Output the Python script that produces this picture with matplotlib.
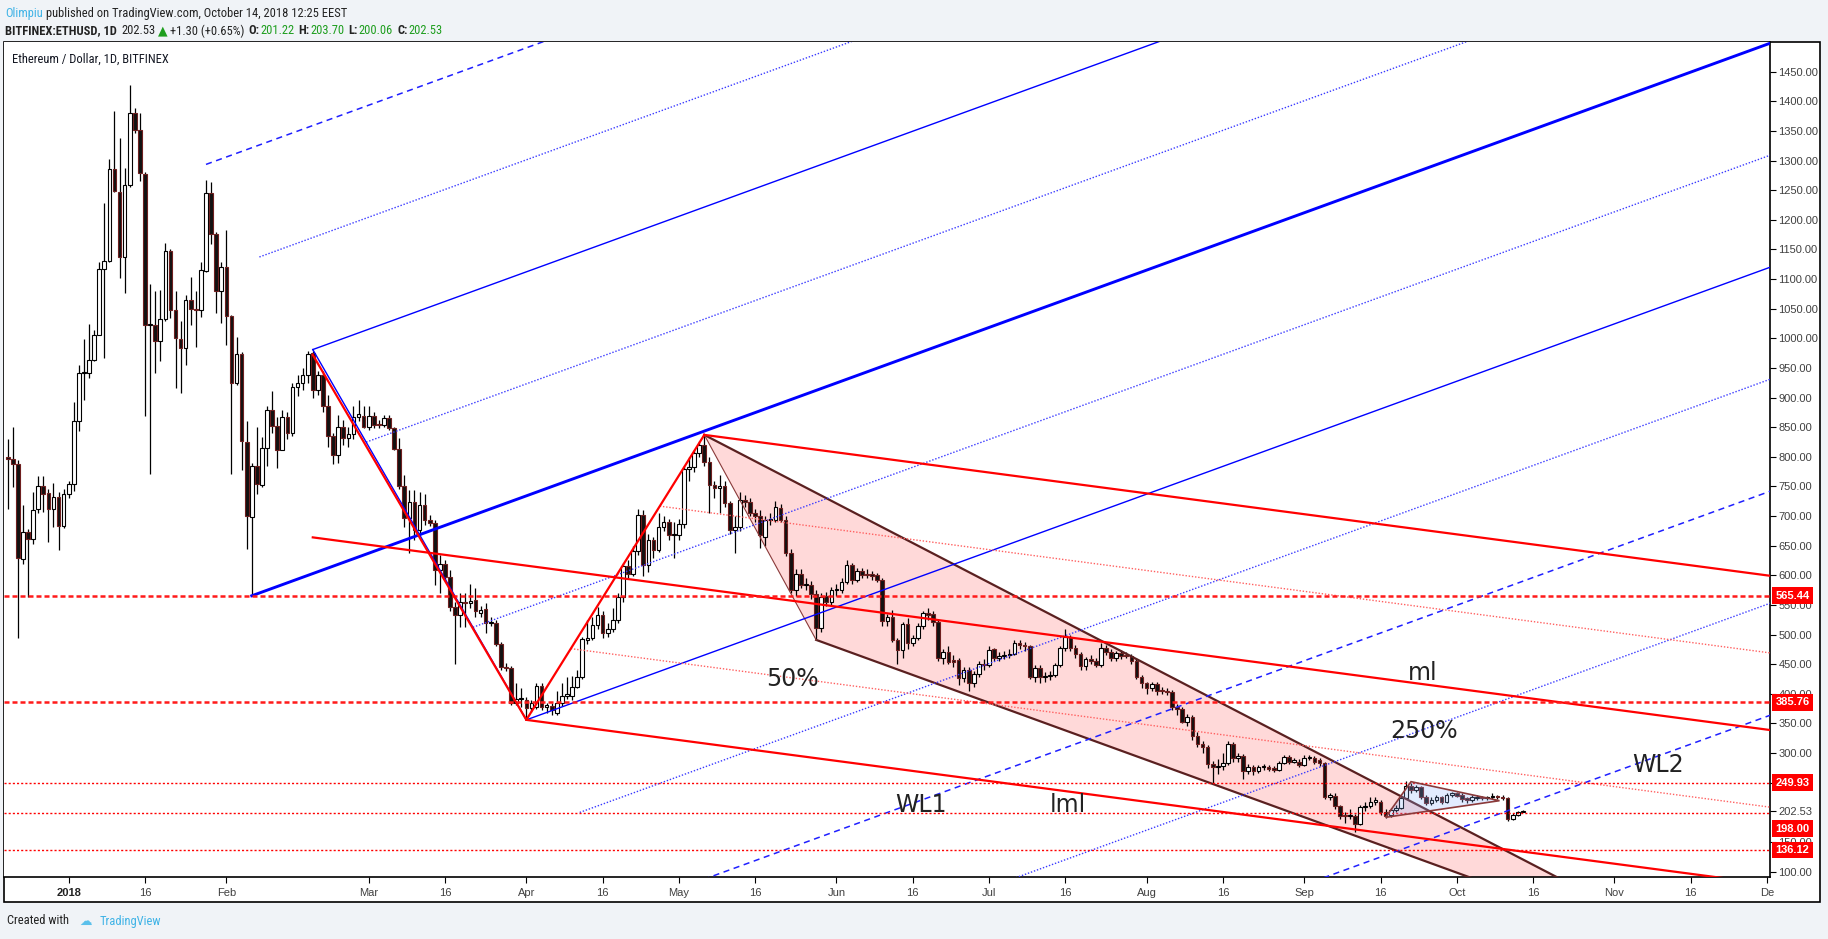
import matplotlib
matplotlib.use("Agg")
import matplotlib.pyplot as plt
import matplotlib.transforms as mtransforms
from matplotlib.patches import Rectangle, Polygon
from matplotlib import font_manager
import numpy as np

W, H = 1828, 939

# ---- daily candles, day 0 = 2018-01-01 (first candle = Dec 20, 2017) ----
first_day = -12
opens = [
    # Dec
    800, 796, 788, 628, 673, 662, 712, 751, 739, 712, 732, 684,
    # Jan
    737, 754, 860, 942, 941, 964, 1006, 1117, 1131, 1286, 1247, 1137, 1259, 1381, 1351, 1277,
    1022, 1023, 995, 1033, 1148, 1048, 998, 983, 1064, 1049, 1047, 1114, 1246, 1176, 1079,
    # Feb
    1120, 1037, 924, 973, 825, 698, 784, 753, 815, 879, 852, 812, 868, 841, 918, 924, 938, 975,
    913, 938, 885, 835, 803, 851, 831, 838, 867, 869,
    # Mar
    850, 869, 855, 853, 865, 848, 814, 750, 696, 723, 677, 719, 694, 688, 609, 619, 597, 547,
    533, 555, 553, 558, 537, 543, 519, 520, 484, 446, 443, 384, 391,
    # Apr
    390, 376, 378, 413, 378, 379, 367, 384, 397, 397, 412, 428, 491, 494, 516, 533, 502, 509,
    525, 564, 615, 603, 641, 702, 617, 660, 643, 682, 690, 668,
    # May
    668, 686, 779, 783, 806, 820, 792, 752, 747, 750, 722, 677, 682, 727, 724, 705, 700, 665,
    693, 694, 713, 694, 638, 575, 602, 584, 584, 568, 511, 565, 555,
    # Jun
    575, 576, 588, 617, 592, 607, 603, 602, 600, 592, 523, 529, 491, 474, 518, 485, 495, 514,
    536, 535, 522, 460, 471, 457, 457, 426, 440, 418, 433, 451,
    # Jul
    449, 475, 460, 464, 466, 468, 485, 482, 480, 429, 443, 428, 430, 432, 449, 477, 496, 477,
    467, 447, 458, 455, 449, 477, 471, 460, 469, 466, 464, 456, 429,
    # Aug
    418, 409, 416, 406, 405, 403, 378, 375, 353, 361, 329, 315, 310, 281, 276, 278, 284, 315,
    291, 295, 269, 277, 270, 276, 276, 274, 272, 284, 293, 285, 285,
    # Sep
    280, 291, 291, 288, 283, 225, 227, 211, 195, 193, 194, 180, 209, 211, 218, 218, 201, 195,
    204, 207, 224, 244, 238, 242, 226, 216, 221, 226, 218, 229,
    # Oct
    232, 229, 224, 220, 224, 226, 224, 225, 227, 226, 224, 189, 196, 201.22,
]
highs = [
    830, 850, 795, 718, 678, 740, 768, 768, 745, 755, 740, 745,
    760, 893, 955, 998, 1024, 1014, 1129, 1229, 1303, 1384, 1338, 1288, 1427, 1388, 1381, 1280,
    1092, 1079, 1081, 1161, 1150, 1079, 1030, 1073, 1104, 1079, 1129, 1267, 1263, 1179, 1129,
    1182, 1039, 1002, 977, 861, 790, 850, 833, 886, 911, 868, 879, 875, 925, 938, 950, 978, 979,
    944, 945, 904, 840, 871, 862, 851, 885, 896, 885,
    885, 876, 862, 870, 870, 850, 831, 769, 744, 744, 741, 738, 702, 693, 635, 625, 609, 555,
    570, 570, 586, 578, 548, 553, 530, 525, 488, 452, 447, 418, 409,
    395, 390, 418, 418, 385, 385, 404, 418, 429, 430, 440, 496, 525, 530, 547, 540, 520, 544,
    570, 620, 625, 650, 712, 710, 670, 665, 705, 700, 695, 690,
    695, 785, 800, 812, 826, 837, 800, 760, 770, 760, 725, 700, 740, 735, 730, 712, 710, 700,
    705, 725, 720, 700, 645, 610, 610, 595, 590, 575, 570, 572, 580,
    585, 595, 625, 620, 612, 612, 610, 608, 604, 595, 535, 541, 495, 522, 528, 500, 520, 540,
    545, 540, 525, 475, 480, 465, 460, 445, 445, 438, 455, 458,
    480, 478, 470, 472, 475, 491, 490, 488, 482, 448, 448, 436, 438, 452, 480, 510, 500, 482,
    470, 462, 465, 460, 485, 482, 476, 472, 474, 470, 468, 460, 432,
    420, 420, 420, 412, 410, 406, 382, 378, 366, 364, 335, 320, 314, 286, 290, 300, 320, 318,
    300, 298, 282, 280, 280, 282, 280, 278, 287, 297, 296, 292, 290,
    296, 297, 295, 291, 285, 233, 232, 213, 200, 205, 197, 212, 218, 225, 225, 220, 205, 208,
    212, 228, 252, 250, 246, 245, 230, 225, 230, 228, 233, 235,
    235, 232, 226, 229, 229, 228, 227, 232, 230, 229, 226, 198, 202, 203.70,
]
lows = [
    712, 749, 494, 619, 563, 653, 705, 706, 656, 681, 643, 680,
    730, 743, 843, 896, 933, 961, 1005, 967, 1129, 1247, 1101, 1076, 1255, 1347, 1266, 869,
    771, 942, 961, 1030, 1035, 916, 908, 955, 1023, 986, 1036, 1112, 1160, 1042, 1026,
    989, 771, 921, 777, 644, 567, 737, 749, 784, 840, 781, 811, 830, 835, 903, 912, 925, 900,
    904, 876, 817, 788, 789, 820, 817, 830, 860, 848,
    845, 848, 848, 850, 845, 811, 745, 682, 637, 660, 668, 685, 683, 584, 570, 590, 540, 451,
    513, 513, 545, 530, 530, 502, 514, 480, 440, 438, 381, 381, 378,
    356, 370, 375, 373, 367, 364, 365, 380, 392, 390, 410, 425, 484, 490, 510, 495, 496, 505,
    520, 555, 595, 598, 635, 598, 605, 630, 640, 675, 660, 629,
    660, 680, 760, 775, 800, 785, 705, 730, 705, 715, 670, 637, 675, 715, 700, 690, 646, 650,
    685, 690, 690, 632, 570, 565, 578, 575, 560, 491, 505, 548, 550,
    565, 570, 585, 585, 588, 596, 595, 592, 588, 515, 515, 488, 451, 460, 475, 480, 490, 510,
    525, 515, 455, 450, 450, 445, 415, 420, 405, 412, 428, 440,
    445, 455, 455, 458, 460, 465, 475, 472, 425, 420, 418, 420, 424, 428, 445, 472, 472, 460,
    440, 440, 450, 445, 445, 465, 455, 455, 458, 460, 450, 425, 410,
    400, 404, 398, 400, 398, 372, 365, 350, 345, 322, 310, 300, 275, 249, 265, 272, 280, 285,
    285, 257, 265, 263, 266, 272, 270, 268, 270, 282, 282, 283, 276,
    278, 288, 282, 278, 222, 220, 205, 188, 182, 188, 167, 178, 203, 208, 213, 196, 190, 192,
    200, 205, 222, 232, 235, 222, 212, 212, 217, 214, 216, 226,
    225, 218, 216, 218, 221, 221, 220, 223, 223, 220, 186, 187, 194, 200.06,
]
closes = [
    796, 788, 630, 673, 662, 710, 751, 737, 712, 732, 684, 737,
    754, 860, 942, 943, 964, 1006, 1117, 1131, 1286, 1249, 1137, 1259, 1381, 1351, 1279, 1022,
    1023, 995, 1033, 1148, 1048, 1000, 983, 1064, 1050, 1048, 1115, 1246, 1176, 1079, 1120,
    1037, 924, 973, 827, 700, 784, 754, 815, 879, 852, 812, 868, 841, 918, 924, 938, 974, 913,
    938, 885, 835, 803, 851, 831, 838, 867, 872, 850,
    869, 854, 853, 865, 848, 814, 750, 696, 723, 677, 719, 693, 688, 609, 619, 597, 547, 533,
    555, 553, 557, 539, 541, 519, 521, 484, 446, 443, 384, 391, 393,
    376, 384, 413, 378, 381, 373, 384, 396, 400, 412, 428, 492, 494, 516, 533, 502, 509, 525,
    564, 615, 603, 641, 702, 617, 660, 643, 682, 690, 668, 669,
    686, 779, 783, 806, 820, 792, 752, 747, 750, 722, 677, 682, 727, 724, 705, 700, 668, 693,
    694, 715, 694, 638, 575, 602, 584, 585, 568, 511, 564, 555, 575,
    576, 588, 617, 592, 607, 601, 600, 598, 592, 523, 529, 491, 474, 518, 485, 495, 514, 536,
    533, 522, 460, 471, 454, 454, 426, 440, 418, 433, 451, 449,
    474, 460, 464, 466, 468, 485, 482, 480, 429, 443, 428, 430, 432, 449, 477, 496, 477, 467,
    447, 458, 455, 449, 477, 471, 460, 469, 464, 464, 456, 429, 418,
    409, 416, 405, 404, 403, 378, 375, 353, 361, 329, 315, 310, 281, 276, 278, 284, 315, 291,
    295, 269, 277, 269, 276, 278, 273, 272, 284, 293, 285, 289, 280,
    291, 293, 285, 283, 225, 229, 211, 194, 193, 195, 180, 209, 211, 218, 220, 201, 193, 204,
    208, 224, 244, 238, 242, 226, 216, 221, 226, 218, 230, 232,
    228, 222, 220, 226, 226, 224, 225, 228, 226, 224, 188, 195, 200, 202.53,
]

tick_days = [0, 15, 31, 59, 74, 90, 105, 120, 135, 151, 166, 181, 196, 212, 227, 243, 258,
             273, 288, 304, 319, 334]
tick_names = ["2018", "16", "Feb", "Mar", "16", "Apr", "16", "May", "16", "Jun", "16", "Jul",
              "16", "Aug", "16", "Sep", "16", "Oct", "16", "Nov", "16", "De"]
price_ticks = [100, 150, 250, 300, 350, 400, 450, 500, 550, 600, 650, 700, 750, 800, 850, 900,
               950, 1000, 1050, 1100, 1150, 1200, 1250, 1300, 1350, 1400, 1450, 202.53]

# drawings (day, price)
blue_pivots = [(36, 565.44), (48, 981), (90, 356)]
red_pivots = [(48, 972), (90, 356), (125, 837)]
blue_b_levels = [0.5, 1.0, 1.5, 2.0]
blue_c_levels = [0.5, 1.0, 1.5, 2.0, 2.5, 3.0]
red_b_levels = [0.5, 1.0]
red_c_levels = [0.5, 1.0]
dashed_levels = [565.44, 385.76]
dotted_levels = [249.93, 198.00, 136.12]
channel_upper = [(125, 837), (300, 58)]
channel_lower = [(147, 491), (300, 14)]
triangle = [(259, 191.5), (264, 251.7), (281.4, 219.6)]
notes = [("50%", 142.4, 424.5), ("ml", 266.2, 435.7), ("250%", 266.5, 337.5),
         ("WL2", 312.6, 280), ("WL1", 167.6, 212), ("lml", 196.5, 212)]

names = {f.name for f in font_manager.fontManager.ttflist}
narrow = next((n for n in ["Liberation Sans Narrow", "DejaVu Sans Condensed", "Roboto Condensed",
                           "Open Sans Condensed", "Noto Sans Condensed"] if n in names), None)
plain = "Liberation Sans"
head_family = [narrow or plain, "DejaVu Sans"]
head_size = 9 if narrow else 7.6

fig = plt.figure(figsize=(W / 100, H / 100), dpi=100, facecolor="#f0f3f7")
fig.patches.append(Rectangle((4 / W, 1 - 902 / H), 1816 / W, (902 - 41.7) / H,
                             transform=fig.transFigure, facecolor="white",
                             edgecolor="black", lw=1.2, zorder=-5))
ax = fig.add_axes([4 / W, 1 - 877 / H, 1766 / W, (877 - 41.7) / H])
ax.set_zorder(2)
ax.set_xlim(-12.73, 334.6)
ax.set_ylim(90.8, 1500.6)
for s in ["left", "top"]:
    ax.spines[s].set_visible(False)
for s in ["right", "bottom"]:
    ax.spines[s].set_color("black")
    ax.spines[s].set_linewidth(1.2)

# candles
days = np.arange(first_day, first_day + len(closes))
o, h, l, c = (np.array(v, float) for v in (opens, highs, lows, closes))
up = c >= o
lo = np.minimum(o, c)
ht = np.maximum(np.abs(c - o), 1.3)
ax.vlines(days, l, h, color="black", lw=0.9, zorder=3)
ax.bar(days[up], ht[up], bottom=lo[up], width=0.72, color="white", edgecolor="black",
       lw=0.8, zorder=4)
ax.bar(days[~up], ht[~up], bottom=lo[~up], width=0.72, color="#111111",
       edgecolor="#6e1f1f", lw=0.8, zorder=4)

# pink disjoint channel
ax.add_patch(Polygon([channel_upper[0], channel_upper[1], channel_lower[1], channel_lower[0]],
                     closed=True, facecolor="#ffd9d9", edgecolor="none", zorder=1))
for seg in (channel_upper, channel_lower):
    ax.plot(*zip(*seg), color="#5a2020", lw=1.6, zorder=5)
ax.plot([channel_upper[0][0], channel_lower[0][0]], [channel_upper[0][1], channel_lower[0][1]],
        color="#8a3a3a", lw=0.8, zorder=5)


def fork(a, b, c, schiff, b_levels, c_levels, col, med_lw, solid_lw, dot_col, dash_col):
    a, b, c = (np.array(p, float) for p in (a, b, c))
    m = (b + c) / 2
    start = np.array([a[0], (a[1] + b[1]) / 2]) if schiff else a
    slope = (m[1] - start[1]) / (m[0] - start[0])
    x_end = 345
    ax.plot([start[0], x_end], [start[1], start[1] + slope * (x_end - start[0])],
            color=col, lw=med_lw, zorder=5)
    for end, levels in ((b, b_levels), (c, c_levels)):
        for k in levels:
            p = m + k * (end - m)
            ys = [p[1], p[1] + slope * (x_end - p[0])]
            if k % 1 == 0.5:
                ax.plot([p[0], x_end], ys, color=dot_col, lw=1.0, ls=(0, (1, 1.3)), zorder=5)
            elif k == 1:
                ax.plot([p[0], x_end], ys, color=col, lw=solid_lw, zorder=5)
            else:
                ax.plot([p[0], x_end], ys, color=dash_col, lw=1.1, ls=(0, (4, 3)), zorder=5)


fork(*blue_pivots, False, blue_b_levels, blue_c_levels, "#0000ff", 2.1, 1.0, "#3a3aff", "#2020ff")
ax.plot(*zip(*blue_pivots[1:]), color="#0000ff", lw=1.0, zorder=5)
fork(*red_pivots, True, red_b_levels, red_c_levels, "#ff0000", 1.6, 1.6, "#ff6060", "#ff0000")
ax.plot(*zip(*red_pivots), color="#ff0000", lw=1.6, zorder=6)

# triangle
ax.add_patch(Polygon(triangle, closed=True, facecolor=(0.55, 0.7, 1.0, 0.25),
                     edgecolor="#8b3a3a", lw=1.2, zorder=6))

# horizontal levels
for v in dashed_levels:
    ax.axhline(v, color="#ff1a1a", lw=1.8, ls=(0, (2, 1.2)), zorder=5)
for v in dotted_levels:
    ax.axhline(v, color="#ff0000", lw=1.0, ls=(0, (1.5, 1.5)), zorder=5)

# note texts
for s, x, y in notes:
    ax.text(x, y, s, fontsize=17, ha="center", va="center", color="#222222",
            family="DejaVu Sans", zorder=7)

# axes ticks
ax.yaxis.tick_right()
ax.set_yticks(price_ticks)
ax.set_yticklabels([f"{v:.2f}" for v in price_ticks])
ax.set_xticks(tick_days)
ax.set_xticklabels(tick_names)
ax.tick_params(axis="y", direction="out", length=4, width=0.8, labelsize=8,
               labelcolor="#404040", pad=2)
ax.tick_params(axis="x", direction="out", length=4, width=0.8, labelsize=8,
               labelcolor="#404040", pad=4)
for lbl in ax.get_xticklabels() + ax.get_yticklabels():
    lbl.set_family(plain)
ax.get_xticklabels()[0].set_fontweight("bold")
ax.get_xticklabels()[0].set_color("#222222")

trans = mtransforms.blended_transform_factory(ax.transAxes, ax.transData)
label_shift = {198.00: -11}
for v in dashed_levels + dotted_levels:
    ax.annotate(f"{v:.2f}", xy=(1.0, v), xycoords=trans, xytext=(4, label_shift.get(v, 0)),
                textcoords="offset points", ha="left", va="center", fontsize=8,
                fontweight="bold", color="white", family=plain, annotation_clip=False,
                bbox=dict(boxstyle="square,pad=0.3", fc="#ff0000", ec="none"), zorder=10)

ax.text(8 / 1766, (877 - 59) / (877 - 41.7), "Ethereum / Dollar, 1D, BITFINEX",
        transform=ax.transAxes, fontsize=head_size, color="#131722", family=head_family,
        ha="left", va="center", zorder=8)

# header / footer
renderer = fig.canvas.get_renderer()


def runs(x, y, parts, size):
    for s, col, bold, gap in parts:
        t = fig.text(x / W, 1 - y / H, s, fontsize=size, color=col,
                     fontweight="bold" if bold else "normal", family=head_family,
                     ha="left", va="center")
        x = t.get_window_extent(renderer).x1 + gap


dark, green, cyan = "#222222", "#1e9e1e", "#3fb3e6"
runs(5, 13, [("Olimpiu", cyan, False, 3),
             ("published on TradingView.com, October 14, 2018 12:25 EEST", dark, False, 0)],
     head_size)
runs(5, 31, [("BITFINEX:ETHUSD, 1D", dark, True, 5), ("202.53", dark, False, 2),
             ("\u25b2", green, False, 2), ("+1.30 (+0.65%)", dark, False, 4),
             ("O:", dark, True, 1), ("201.22", green, False, 4),
             ("H:", dark, True, 1), ("203.70", green, False, 4),
             ("L:", dark, True, 1), ("200.06", green, False, 4),
             ("C:", dark, True, 1), ("202.53", green, False, 0)], head_size)
runs(7, 921, [("Created with", dark, False, 10), ("\u2601", "#5bc0eb", False, 8),
              ("TradingView", cyan, False, 0)], 9)

fig.savefig("out.png", dpi=100, facecolor=fig.get_facecolor())
